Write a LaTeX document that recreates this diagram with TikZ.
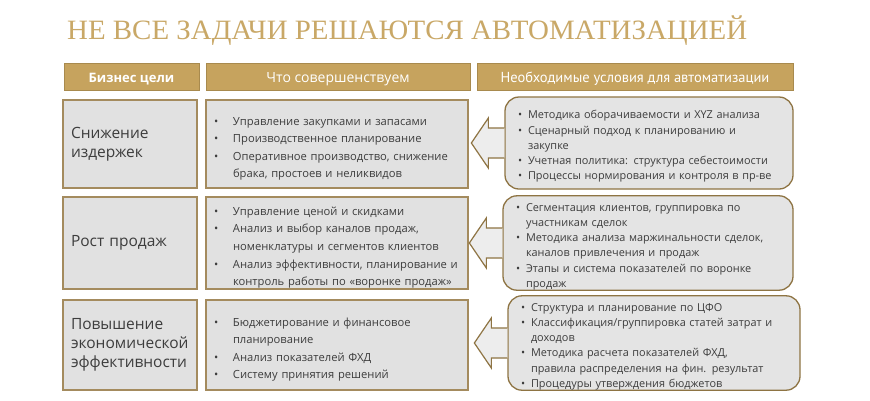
\documentclass[tikz,border=0pt]{standalone}
\usepackage{fontspec}
\setmainfont{Open Sans}
\newfontfamily\titlefont{Liberation Serif}
\newfontfamily\condfont{PT Sans}
\usetikzlibrary{calc}
\definecolor{gold}{HTML}{C6A35E}
\definecolor{goldline}{HTML}{A88A4E}
\definecolor{titlegold}{HTML}{C9A867}
\definecolor{boxfill}{HTML}{E1E1E1}
\definecolor{boxline}{HTML}{A48B5E}
\definecolor{rfill}{HTML}{E4E4E4}
\definecolor{rline}{HTML}{8E7443}
\definecolor{txt}{HTML}{3D3D3D}
\definecolor{arrfill}{HTML}{EDEDED}
\newcommand\mitem[1]{\par\hangindent=19pt\hangafter=1\noindent\makebox[19pt][l]{•}#1}
\newcommand\ritem[1]{\par\hangindent=10pt\hangafter=1\noindent\makebox[10pt][l]{•}#1}
\tikzset{
  hdr/.style={draw=goldline, line width=1pt, fill=gold, text=white, minimum height=27pt, inner sep=0pt,
    text height=11pt, text depth=0pt},
  goalbox/.style={draw=boxline, line width=1.1pt, fill=boxfill, text=txt, minimum width=134pt,
    text width=118pt, inner xsep=8pt, inner ysep=0pt, align=left,
    font=\fontsize{15.5}{19}\selectfont},
  midbox/.style={draw=boxline, line width=1.1pt, fill=boxfill, text=txt, minimum width=262pt,
    text width=246pt, inner xsep=8pt, inner ysep=0pt, align=left,
    font=\fontsize{11.2}{17.6}\selectfont},
  condbox/.style={draw=rline, line width=1.3pt, fill=rfill, text=txt, rounded corners=14pt,
    inner xsep=13pt, inner ysep=0pt, align=left,
    font=\fontsize{10.9}{15.3}\selectfont},
  blockarrow/.style={draw=rline, line width=1.2pt, fill=arrfill, line join=miter}
}
\newcommand\leftarrowto[1]{%
  \path[blockarrow] ($(#1.west)+(0,-15)$) -- ++(-16,0) -- ++(0,-10) -- ++(-17,25)
    -- ++(17,25) -- ++(0,-10) -- ($(#1.west)+(0,15)$);}
\begin{document}
\begin{tikzpicture}[x=1pt,y=-1pt]
\useasboundingbox[fill=white] (0,0) rectangle (870,400);

% title
\node[text=titlegold, anchor=west, inner sep=0pt] (title) at (67,31)
  {\resizebox{680pt}{\height}{\titlefont\fontsize{28}{28}\selectfont НЕ ВСЕ ЗАДАЧИ РЕШАЮТСЯ АВТОМАТИЗАЦИЕЙ}};

% headers
\node[hdr, minimum width=135pt] (h1) at (131.5,76.5) {\fontsize{13}{13}\selectfont\bfseries Бизнес цели};
\node[hdr, minimum width=264pt] (h2) at (338,76.5) {\fontsize{14}{14}\selectfont Что совершенствуем};
\node[hdr, minimum width=316pt] (h3) at (635,76.5) {\condfont\fontsize{14.5}{14.5}\selectfont Необходимые условия для автоматизации};

% row 1
\node[goalbox, minimum height=88pt] (g1) at (130,144) {Снижение\\издержек};
\node[midbox, minimum height=88pt] (m1) at (337,144) {%
\mitem{Управление закупками и запасами}
\mitem{Производственное планирование}
\mitem{Оперативное производство, снижение\newline брака, простоев и неликвидов}\par};
\node[condbox, minimum width=288pt, text width=262pt, minimum height=92pt] (c1) at (649,143) {%
\ritem{Методика оборачиваемости и XYZ анализа}
\ritem{Сценарный подход к планированию и\newline закупке}
\ritem{Учетная политика: структура себестоимости}
\ritem{Процессы нормирования и контроля в~\mbox{пр-ве}}\par};

% row 2
\node[goalbox, minimum height=92pt] (g2) at (130,243) {Рост продаж};
\node[midbox, minimum height=92pt] (m2) at (337,243) {%
\mitem{Управление ценой и скидками}
\mitem{Анализ и выбор каналов продаж,\newline номенклатуры и сегментов клиентов}
\mitem{Анализ эффективности, планирование и\newline контроль работы по «воронке продаж»}\par};
\node[condbox, minimum width=290pt, text width=264pt, minimum height=92pt] (c2) at (648,243) {%
\ritem{Сегментация клиентов, группировка по\newline участникам сделок}
\ritem{Методика анализа маржинальности сделок,\newline каналов привлечения и продаж}
\ritem{Этапы и система показателей по воронке\newline продаж}\par};

% row 3
\node[goalbox, minimum height=90pt] (g3) at (130,345) {Повышение\\экономической\\эффективности};
\node[midbox, minimum height=90pt] (m3) at (337,345) {%
\mitem{Бюджетирование и финансовое\newline планирование}
\mitem{Анализ показателей ФХД}
\mitem{Систему принятия решений}\par};
\node[condbox, minimum width=292pt, text width=266pt, minimum height=92pt] (c3) at (654,343) {%
\ritem{Структура и планирование по ЦФО}
\ritem{Классификация/группировка статей затрат и\newline доходов}
\ritem{Методика расчета показателей ФХД,\newline правила распределения на фин. результат}
\ritem{Процедуры утверждения бюджетов}\par};

% arrows
\leftarrowto{c1}
\leftarrowto{c2}
\leftarrowto{c3}
\end{tikzpicture}
\end{document}
